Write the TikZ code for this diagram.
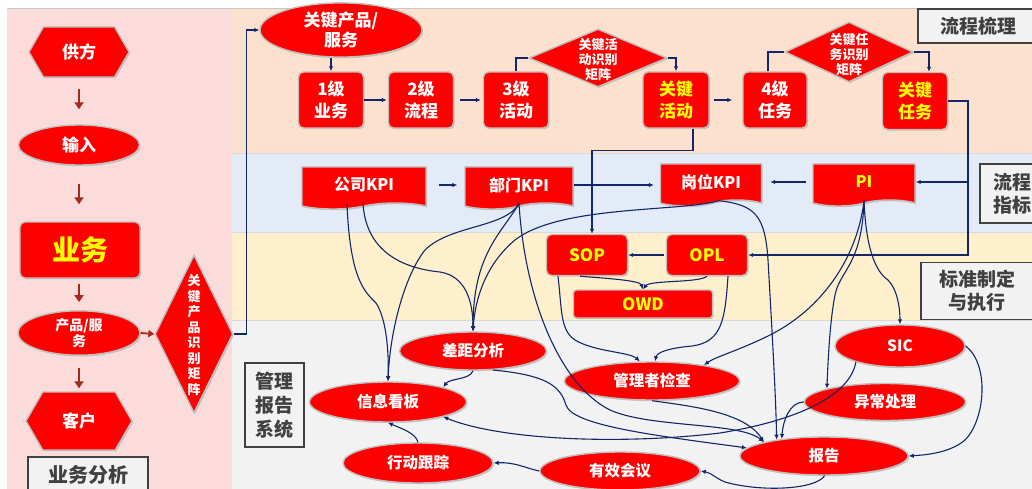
\documentclass[tikz,border=0pt]{standalone}
\usepackage{fontspec}
\setmainfont{Noto Sans CJK SC}
\usetikzlibrary{shapes.geometric,shapes.symbols,arrows.meta,shadows}
\definecolor{pinkbg}{RGB}{252,219,219}
\definecolor{peachbg}{RGB}{252,226,206}
\definecolor{bluebg}{RGB}{227,235,247}
\definecolor{yelbg}{RGB}{255,240,205}
\definecolor{graybg}{RGB}{242,242,242}
\definecolor{navy}{RGB}{18,38,105}
\definecolor{darkred}{RGB}{165,42,30}
\definecolor{labtxt}{RGB}{64,64,64}
\definecolor{nodered}{RGB}{255,0,0}
\definecolor{ylw}{RGB}{255,255,0}
\tikzset{
  fs/.style 2 args={font=\bfseries\fontsize{#1}{#2}\selectfont},
  base/.style={fill=nodered, draw=black!25, line width=1.4pt, text=white, fs={17}{20}, inner sep=1pt, align=center,
    drop shadow={shadow xshift=1.2pt, shadow yshift=-1.2pt, opacity=0.35}},
  box/.style={base, rectangle, rounded corners=5pt},
  ell/.style={base, ellipse, fs={15.5}{18}},
  hexa/.style={base, signal, signal to=east and west, signal pointer angle=120},
  doc/.style={base, tape, tape bend top=none, tape bend bottom=in and out, tape bend height=6pt, fs={16}{18}},
  dia/.style={base, diamond, inner sep=0pt},
  dtext/.style={text=white, fs={13}{15}, align=center, inner sep=0pt},
  yt/.style={text=ylw},
  lab/.style={rectangle, fill=graybg, draw=labtxt, line width=1.6pt, text=labtxt, fs={19}{23}, align=center, inner sep=2pt},
  arr/.style={navy, line width=1.1pt, -{Latex[length=5pt,width=4.5pt]}},
  ln/.style={navy, line width=1.1pt},
  rarr/.style={darkred, line width=2.6pt, -{Triangle[length=7pt,width=9pt]}},
}
\begin{document}
\begin{tikzpicture}[x=1pt,y=-1pt]
\useasboundingbox (0,0) rectangle (1032,489);
% backgrounds
\fill[white] (0,0) rectangle (1032,489);
\fill[pinkbg] (7,8) rectangle (232,489);
\fill[peachbg] (232,8) rectangle (1032,153);
\fill[bluebg] (232,153) rectangle (1032,232);
\fill[yelbg] (232,232) rectangle (1032,320);
\fill[graybg] (232,320) rectangle (1032,489);
\draw[black!22, line width=0.8pt] (7,8) -- (1032,8);
\draw[black!15, line width=0.8pt] (232,153) -- (1032,153) (232,232) -- (1032,232) (232,320) -- (1032,320);

% left column
\node[hexa, minimum width=100pt, minimum height=50pt] (sup) at (79,52) {供方};
\node[ell, fs={17}{20}, minimum width=121pt, minimum height=40pt] (inp) at (79,145) {输入};
\node[box, yt, fs={28}{30}, minimum width=120pt, minimum height=56pt] (biz) at (80,250) {业务};
\node[ell, fs={14}{16}, minimum width=122pt, minimum height=40pt] (prod) at (79,333) {产品/服\\务};
\node[dia, minimum width=78pt, minimum height=158pt] (kpm) at (194,334) {};
\node[dtext, fs={13}{15.5}] (kpmt) at (194,335) {关\\键\\产\\品\\识\\别\\矩\\阵};
\node[hexa, minimum width=106pt, minimum height=58pt] (cust) at (79,421) {客户};
\node[lab, fs={20}{23}, minimum width=120pt, minimum height=36pt] (lab1) at (88,475) {业务分析};

\draw[rarr, shorten <=11pt, shorten >=15pt] (sup.south) -- (inp.north);
\draw[rarr, shorten <=18pt, shorten >=17pt] (inp.south) -- (inp.south |- biz.north);
\draw[rarr, shorten <=5pt, shorten >=8pt] (prod.north |- biz.south) -- (prod.north);
\draw[rarr, shorten <=12pt, shorten >=3pt] (prod.south) -- (cust.north);
\draw[rarr, line width=1.8pt, -{Triangle[length=6pt,width=7pt]}] (prod.east) -- (kpm.west);

% top band
\node[ell, fs={17}{20}, minimum width=162pt, minimum height=46pt] (kp) at (341,30) {关键产品/\\服务};
\node[box, minimum width=65pt, minimum height=56pt, fs={17}{22}] (l1) at (331,100) {1级\\业务};
\node[box, minimum width=65pt, minimum height=56pt, fs={17}{22}] (l2) at (421,100) {2级\\流程};
\node[box, minimum width=65pt, minimum height=56pt, fs={17}{22}] (l3) at (516,100) {3级\\活动};
\node[dia, minimum width=138pt, minimum height=58pt] (d1) at (598,58) {};
\node[dtext] (d1t) at (598,60) {关键活\\动识别\\矩阵};
\node[box, yt, minimum width=66pt, minimum height=56pt, fs={17}{22}] (ka) at (676,100) {关键\\活动};
\node[box, minimum width=64pt, minimum height=56pt, fs={17}{22}] (l4) at (775,100) {4级\\任务};
\node[dia, minimum width=128pt, minimum height=60pt] (d2) at (849,52) {};
\node[dtext] (d2t) at (849,55) {关键任\\务识别\\矩阵};
\node[box, yt, minimum width=65pt, minimum height=57pt, fs={17}{22}] (kt) at (915,101) {关键\\任务};
\node[lab, minimum width=120pt, minimum height=34pt] (lab2) at (978,26) {流程梳理};

\draw[arr] (kpm.east) -- ++(13,0) |- (kp.west);

% blue band
\node[doc, minimum width=124pt, minimum height=42pt] (k1) at (364,185) {公司KPI};
\node[doc, minimum width=108pt, minimum height=42pt] (k2) at (519,185) {部门KPI};
\node[doc, minimum width=101pt, minimum height=42pt] (k3) at (711,182) {岗位KPI};
\node[doc, yt, minimum width=102pt, minimum height=42pt] (pi) at (864,182) {PI};
\node[lab, minimum width=64pt, minimum height=59pt] (lab4) at (1012,193.5) {流程\\指标};

% yellow band
\node[box, yt, minimum width=81pt, minimum height=41pt] (sop) at (587,255) {SOP};
\node[box, yt, minimum width=81pt, minimum height=41pt] (opl) at (707,255) {OPL};
\node[box, yt, rounded corners=3pt, minimum width=139pt, minimum height=28pt] (owd) at (643,304) {OWD};
\node[lab, minimum width=112pt, minimum height=57pt] (lab5) at (977,291) {标准制定\\与执行};

% gray band
\node[lab, minimum width=59pt, minimum height=84pt, fs={19}{24}] (lab3) at (274.5,405) {管理\\报告\\系统};
\node[ell, minimum width=147pt, minimum height=38pt] (gap) at (473,351) {差距分析};
\node[ell, minimum width=157pt, minimum height=40pt] (board) at (388,402) {信息看板};
\node[ell, minimum width=150pt, minimum height=40pt] (track) at (418,463) {行动跟踪};
\node[ell, minimum width=160pt, minimum height=38pt] (meet) at (620,471) {有效会议};
\node[ell, minimum width=175pt, minimum height=38pt] (check) at (652,381) {管理者检查};
\node[ell, minimum width=168pt, minimum height=38pt] (report) at (824,456) {报告};
\node[ell, minimum width=130pt, minimum height=42pt] (sic) at (900,346) {SIC};
\node[ell, minimum width=161pt, minimum height=37pt] (exc) at (885,402) {异常处理};

% top band connectors
\draw[arr] (kp.south -| l1.north) -- (l1.north);
\draw[arr, shorten >=1pt] (l1.east) -- (l2.west);
\draw[arr, shorten <=6pt, shorten >=2pt] (l2.east) -- (l3.west);
\draw[ln] (l3.north) |- (d1.west);
\draw[arr] (d1.east) -| (ka.north);
\draw[arr, shorten <=4pt, shorten >=10pt] (ka.east) -- (l4.west);
\draw[ln] ([xshift=-7pt]l4.north) |- (d2.west);
\draw[arr] (d2.east) -| ([xshift=14pt]kt.north);
\coordinate (rr) at (968,255);
\draw[arr] (kt.east) -| (rr) -- (opl.east);
\draw[arr] (pi.east -| rr) -- (pi.east);
\draw[arr] ([xshift=17pt]ka.south) -- ++(0,22) -| ([xshift=5pt]sop.north);

% KPI connectors
\draw[arr, shorten <=12pt, shorten >=7pt] (k1.east) -- (k2.west);
\draw[arr, shorten >=6pt] (k2.east) -- (k2.east -| k3.west);
\draw[arr, shorten <=6pt, shorten >=8pt] (pi.west) -- (k3.east);
\draw[arr, shorten <=2pt] (opl.west) -- (sop.east);

\draw[arr] ([xshift=-17pt]k1.south) .. controls (350,280) and (365,292) .. (376,303) .. controls (386,318) and (389,350) .. (board.north);
\draw[arr] ([xshift=-1pt]k1.south) .. controls (366,250) and (400,268) .. (440,272) .. controls (465,276) and (473,300) .. (gap.north);
\draw[arr] (k2.south) .. controls (505,228) and (450,225) .. (425,250) .. controls (405,275) and (390,330) .. (board.north);
\draw[arr] (k2.south) .. controls (500,235) and (473,255) .. (gap.north);
\draw[arr] (k2.south) .. controls (525,300) and (560,385) .. (610,410) .. controls (650,428) and (740,422) .. (report.167);
\draw[arr] ([xshift=8pt]k3.south) .. controls (680,212) and (560,205) .. (515,240) .. controls (485,265) and (475,300) .. (gap.north);
\draw[arr] ([xshift=8pt]k3.south) .. controls (755,205) and (765,215) .. (768,260) .. controls (772,330) and (776,400) .. (report.161);

% SOP / OPL
\draw[arr] ([xshift=-7pt]sop.south) .. controls (600,278) and (640,280) .. (owd.north);
\draw[arr] (opl.south) .. controls (700,283) and (650,280) .. (owd.north);
\draw[arr] ([xshift=-29pt]sop.south) .. controls (562,310) and (560,330) .. (575,340) .. controls (595,352) and (630,352) .. (check.122);
\draw[arr] ([xshift=21pt]opl.south) .. controls (725,320) and (722,342) .. (692,346) .. controls (670,348) and (657,352) .. (check.81);

% PI
\draw[arr] (pi.south) .. controls (857,260) and (820,310) .. (770,335) .. controls (740,350) and (715,357) .. (check.17);
\draw[arr] (pi.south) .. controls (862,265) and (840,270) .. (835,295) .. controls (830,320) and (828,360) .. (exc.167);
\draw[arr] (pi.south) .. controls (866,250) and (876,272) .. (888,280) .. controls (898,290) and (900,310) .. (sic.north);

% SIC / exc / gap / check
\draw[arr] (sic.east) .. controls (990,365) and (985,420) .. (965,440) .. controls (950,453) and (925,455) .. (report.east);
\draw[arr] (sic.200) .. controls (850,395) and (800,420) .. (720,433) .. controls (620,445) and (500,440) .. (board.345);
\draw[arr] (exc.west) .. controls (790,402) and (783,420) .. (report.158);
\draw[arr] (gap.south) .. controls (470,380) and (450,378) .. (board.15);
\draw[arr] (gap.316) .. controls (545,375) and (560,385) .. (566,405) .. controls (572,425) and (650,435) .. (report.174);
\draw[arr] (check.south) .. controls (690,406) and (745,412) .. (report.167);

% bottom loop
\draw[arr] (report.272) .. controls (815,490) and (760,492) .. (725,482) .. controls (715,478) and (712,473) .. (meet.east);
\draw[arr] (meet.west) .. controls (525,468) and (515,462) .. (track.east);
\draw[arr] (track.north) .. controls (416,433) and (400,428) .. (board.south);
\end{tikzpicture}
\end{document}
